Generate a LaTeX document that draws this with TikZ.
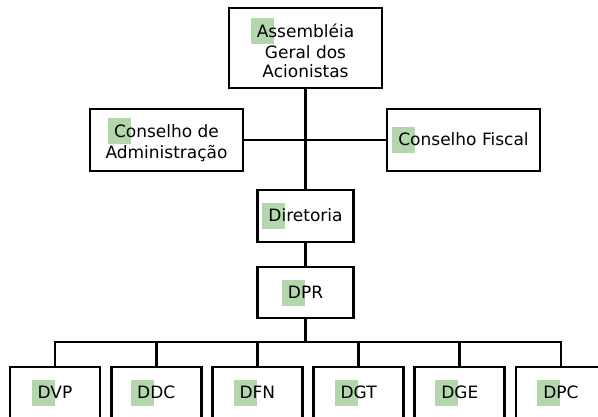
\documentclass[tikz,border=0pt]{standalone}
\usepackage{fontspec}
\setmainfont{DejaVu Sans}
\definecolor{hlgreen}{RGB}{180,214,172}
\newcommand{\hlbox}{\makebox[0pt][l]{\kern-6pt\raisebox{-7pt}{\color{hlgreen}\rule{23pt}{26pt}}}}
\tikzset{
  orgbox/.style={draw, line width=2.8pt, align=center, inner sep=0pt,
    font=\fontsize{17}{19}\selectfont},
  link/.style={line width=2.8pt}
}
\begin{document}
\begin{tikzpicture}[x=1pt,y=-1pt]
\useasboundingbox (0,0) rectangle (598,417);
\clip (0,0) rectangle (598,417);

\node[orgbox, minimum width=153, minimum height=80] (ag) at (305.5,48)
  {\hlbox Assembléia\\Geral dos\\Acionistas};
\node[orgbox, minimum width=153, minimum height=62] (ca) at (166.5,140)
  {\hlbox Conselho de\\Administração};
\node[orgbox, minimum width=153, minimum height=62] (cf) at (463.5,140)
  {\hlbox Conselho Fiscal};
\node[orgbox, minimum width=96, minimum height=52] (dir) at (305.5,216)
  {\hlbox Diretoria};
\node[orgbox, minimum width=96, minimum height=51] (dpr) at (305.5,292.5)
  {\hlbox DPR};

\foreach \name/\txt [count=\i from 0] in {dvp/DVP,ddc/DDC,dfn/DFN,dgt/DGT,dge/DGE,dpc/DPC}
  \node[orgbox, minimum width=90, minimum height=52] (\name) at (55+101.2*\i,393) {\hlbox\txt};

\coordinate (bus) at (305.5,342);

\draw[link] (ag) -- (dir);
\draw[link] (ca) -- (cf);
\draw[link] (dir) -- (dpr);
\draw[link] (dpr) -- (bus);
\draw[link] (dvp.north) |- (bus) -| (dpc.north);
\foreach \name in {ddc,dfn,dgt,dge}
  \draw[link] (\name.north) -- (\name.north |- bus);
\end{tikzpicture}
\end{document}
